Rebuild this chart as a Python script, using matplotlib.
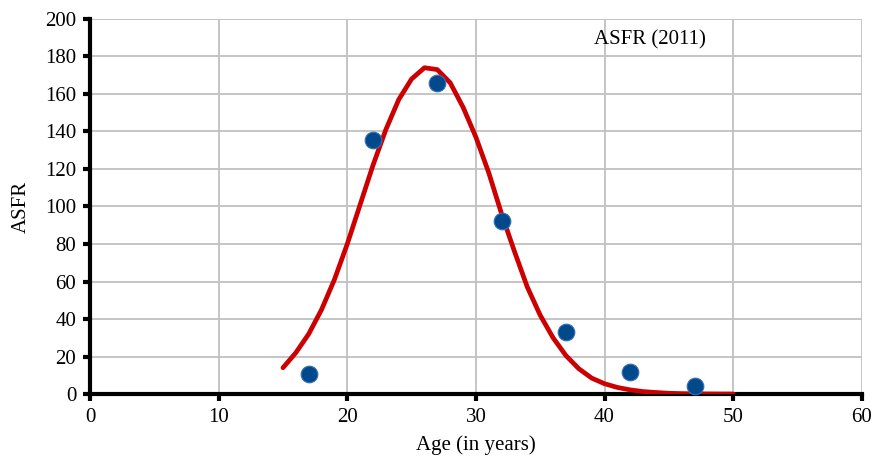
import matplotlib
matplotlib.use("Agg")
import matplotlib.pyplot as plt

# observed ASFR points
age_pts = [17, 22, 27, 32, 37, 42, 47]
asfr_pts = [10.5, 135.5, 166, 92, 33, 11.5, 4.5]

# fitted curve, single years 15..50
age_fit = list(range(15, 51))
asfr_fit = [14, 22, 32, 45, 61, 80, 101, 122, 141, 157, 168, 174, 173, 166, 153,
            137, 118, 96, 76, 57, 42, 30, 20.5, 13.5, 8.5, 5.5, 3.5, 2.2, 1.3, 0.8,
            0.4, 0.2, 0.1, 0.05, 0.02, 0.0]

plt.rcParams["font.family"] = ["Liberation Serif", "DejaVu Serif"]

fig = plt.figure(figsize=(8.74, 4.63), dpi=100)
ax = fig.add_axes([0.103, 0.149, 0.883, 0.810])

ax.plot(age_fit, asfr_fit, color="#cc0000", lw=3.4, solid_capstyle="round",
        solid_joinstyle="round", zorder=3)
ax.plot(age_pts, asfr_pts, "o", ms=12, mfc="#004a8c", mec="#3a6fb5", mew=0.8,
        zorder=4, clip_on=False)

ax.set_xlim(0, 60)
ax.set_ylim(0, 200)
ax.set_xticks(range(0, 61, 10))
ax.set_yticks(range(0, 201, 20))
ax.grid(True, color="#c0c0c0", lw=1.3)
ax.set_axisbelow(True)

for s in ("top", "right"):
    ax.spines[s].set_visible(False)
for s in ("left", "bottom"):
    ax.spines[s].set_linewidth(3.0)
ax.tick_params(direction="out", length=5, width=3.0, labelsize=15, pad=5)

ax.set_xlabel("Age (in years)", fontsize=15, labelpad=6)
ax.set_ylabel("ASFR", fontsize=15, labelpad=10)
ax.text(43.5, 188.8, "ASFR (2011)", fontsize=15, ha="center", va="center")

fig.savefig("out.png", dpi=100)
